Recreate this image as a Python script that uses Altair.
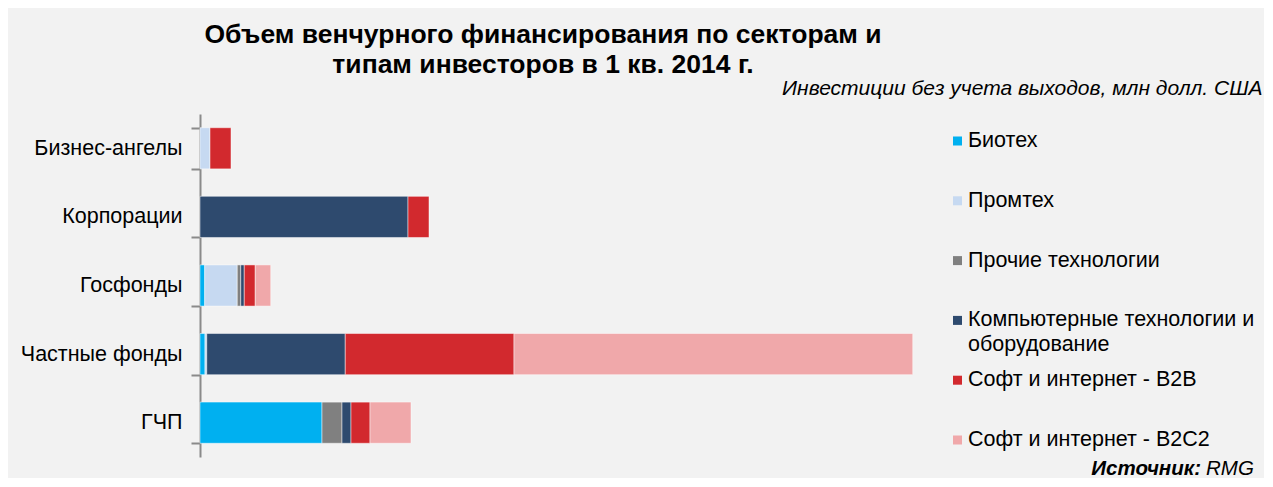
import altair as alt
import pandas as pd

investors = ["Бизнес-ангелы", "Корпорации", "Госфонды", "Частные фонды", "ГЧП"]
sectors = [
    "Биотех",
    "Промтех",
    "Прочие технологии",
    "Компьютерные технологии и оборудование",
    "Софт и интернет - B2B",
    "Софт и интернет - B2C2",
]
legend_labels = [
    "Биотех",
    "Промтех",
    "Прочие технологии",
    "Компьютерные технологии и\nоборудование",
    "Софт и интернет - B2B",
    "Софт и интернет - B2C2",
]
colors = ["#00B0F0", "#C6D9F1", "#808080", "#2E4A6E", "#D2292E", "#F0A8AA"]

# values per investor type (млн долл. США)
biotech = [0.0, 0.0, 1.9, 2.0, 48.8]
promtech = [4.0, 0.0, 13.0, 0.7, 0.0]
other_tech = [0.0, 0.0, 1.4, 0.0, 8.0]
computer = [0.0, 83.2, 1.4, 55.4, 3.6]
soft_b2b = [8.4, 8.4, 4.4, 67.5, 7.6]
soft_b2c = [0.0, 0.0, 6.2, 159.5, 16.4]

title_lines = ["Объем венчурного финансирования по секторам и", "типам инвесторов в 1 кв. 2014 г."]
subtitle = "Инвестиции без учета выходов, млн долл. США"
source_bold = "Источник:"
source_rest = "RMG"

series = [biotech, promtech, other_tech, computer, soft_b2b, soft_b2c]
rows = []
for si, (sector, vals) in enumerate(zip(sectors, series)):
    for inv, v in zip(investors, vals):
        if v > 0:
            rows.append({"investor": inv, "sector": sector, "order": si, "value": v})
df = pd.DataFrame(rows)
legend_df = pd.DataFrame({"sector": sectors, "label": legend_labels})

FONT = "Liberation Sans"
color_scale = alt.Scale(domain=sectors, range=colors)

bars = alt.Chart(df).mark_bar(stroke="white", strokeWidth=0.8, strokeOpacity=0.6).encode(
    x=alt.X("value:Q", stack="zero",
            scale=alt.Scale(domain=[0, 300], nice=False, zero=True),
            axis=alt.Axis(orient="top", title=subtitle, labels=False, ticks=False,
                          domain=False, grid=False, titleFontStyle="italic",
                          titleFontWeight="normal", titleFontSize=21, titleFont=FONT,
                          titleColor="black", titleAlign="right", titleAnchor="end",
                          titleX=1062, titleY=-26, titleBaseline="middle")),
    y=alt.Y("investor:N", sort=investors,
            scale=alt.Scale(paddingInner=0.4, paddingOuter=0.2),
            axis=alt.Axis(title=None, tickBand="extent", tickSize=9, tickColor="#8a8a8a",
                          tickWidth=2, domainColor="#8a8a8a", domainWidth=2,
                          labelFontSize=21.5, labelFont=FONT, labelColor="black",
                          labelPadding=9, grid=False)),
    color=alt.Color("sector:N", scale=color_scale, legend=None),
    order=alt.Order("order:Q"),
)

leg_y = alt.Y("sector:N", sort=sectors,
              scale=alt.Scale(type="point", range=[27, 326], padding=0), axis=None)

leg_sym = alt.Chart(legend_df).mark_square(size=81, opacity=1).encode(
    x=alt.value(757.5),
    y=leg_y,
    color=alt.Color("sector:N", scale=color_scale, legend=None),
)

leg_txt = alt.Chart(legend_df).mark_text(
    align="left", baseline="middle", lineBreak="\n", lineHeight=25,
    font=FONT, fontSize=21.5, color="black"
).encode(x=alt.value(768), y=leg_y, text="label:N")

src1 = alt.Chart(pd.DataFrame({"t": [source_bold]})).mark_text(
    align="right", baseline="alphabetic", font=FONT, fontSize=20.5, fontStyle="italic",
    fontWeight="bold", color="black"
).encode(text="t:N", x=alt.value(1001), y=alt.value(361))

src2 = alt.Chart(pd.DataFrame({"t": [source_rest]})).mark_text(
    align="left", baseline="alphabetic", font=FONT, fontSize=20.5, fontStyle="italic",
    color="black"
).encode(text="t:N", x=alt.value(1006), y=alt.value(361))

chart = alt.layer(bars, leg_sym, leg_txt, src1, src2).resolve_scale(
    y="independent"
).properties(
    width=750,
    height=343,
    background="#f2f2f2",
    padding={"left": 192, "top": 106, "right": 314, "bottom": 21},
    autosize=alt.AutoSizeParams(type="none"),
    title=alt.TitleParams(text=title_lines, anchor="middle", frame="group", dx=-32,
                          dy=11, fontSize=26.5, fontWeight="bold", font=FONT,
                          color="black", lineHeight=30, offset=10),
).configure_view(stroke=None)

chart.save("out.html", embed_options={"renderer": "svg", "actions": False})
